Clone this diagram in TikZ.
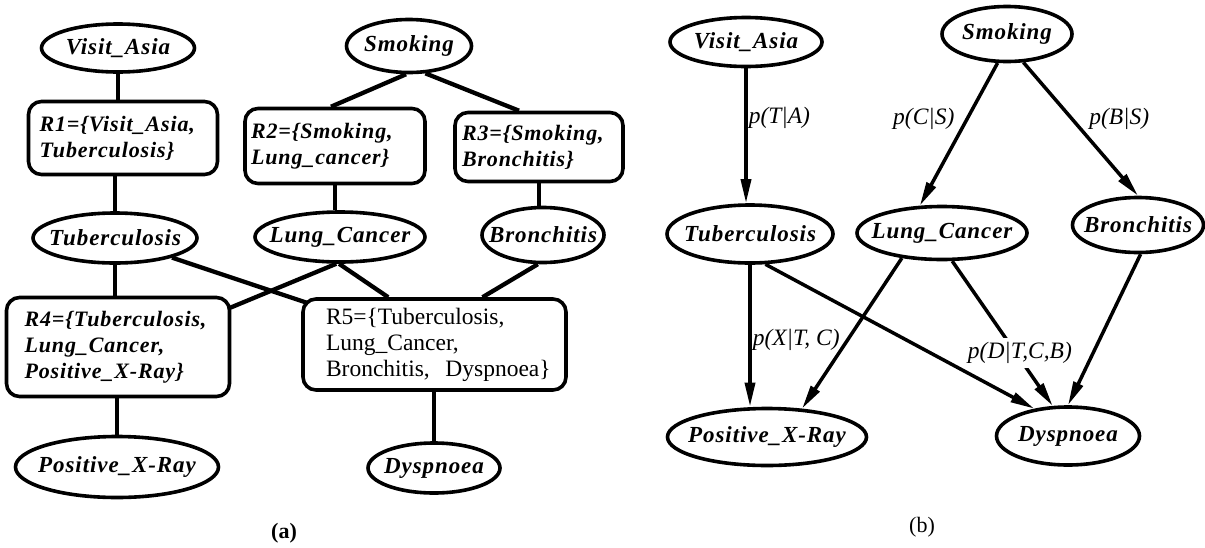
\documentclass[tikz,border=0pt]{standalone}
\usepackage{fontspec}
\setmainfont{Liberation Serif}
\newfontfamily\nodefam[LetterSpace=4.0]{Liberation Serif}
\usetikzlibrary{shapes.geometric,arrows.meta,calc}
\newcommand\zw[1]{\makebox[0pt]{#1}}
\newcommand\nodefnt{\fontsize{23}{26}\selectfont\nodefam\bfseries\itshape}
\newcommand\boxfnt{\fontsize{22}{26}\selectfont\nodefam\bfseries\itshape}
\newcommand\labfnt{\fontsize{23.5}{26}\selectfont\itshape}
\newcommand\rfnt{\fontsize{23.5}{26}\selectfont}
\tikzset{
  ell/.style={draw, ellipse, line width=3.6pt, inner sep=0pt, font=\nodefnt},
  sz/.style 2 args={minimum width=#1pt, minimum height=#2pt},
  rbox/.style={draw, rounded corners=13pt, line width=3.6pt, align=left, inner ysep=0pt, font=\boxfnt},
  conA/.style={line width=4.3pt},
  conB/.style={line width=3.5pt, -{Triangle[length=24pt,width=10pt]}},
  lab/.style={font=\labfnt, inner sep=1pt},
  capt/.style={font=\fontsize{22}{26}\selectfont}
}
\begin{document}
\begin{tikzpicture}[x=1pt,y=-1pt]
\fill[white] (0,0) rectangle (1205,547);
\useasboundingbox (0,0) rectangle (1205,547);

% ---------- (a) ----------
\node[ell, sz={153}{48}] (va_a) at (118,48) {\zw{Visit\_Asia}};
\node[ell, sz={125}{53}] (smk_a) at (409,46) {\zw{Smoking}};
\node[rbox, minimum height=73pt, text width=167pt, inner xsep=11pt] (r1) at (123,138) {R1=\{Visit\_Asia,\\Tuberculosis\}};
\node[rbox, minimum height=75pt, text width=168pt, inner xsep=6pt] (r2) at (335,146) {R2=\{Smoking,\\Lung\_cancer\}};
\node[rbox, minimum height=69pt, text width=154pt, inner xsep=7pt] (r3) at (539,147) {R3=\{Smoking,\\Bronchitis\}};
\node[ell, sz={164}{50}] (tub_a) at (115,238) {\zw{Tuberculosis}};
\node[ell, sz={170}{50}] (lc_a) at (340,237) {\zw{Lung\_Cancer}};
\node[ell, sz={122}{55}] (br_a) at (543,235) {\zw{Bronchitis}};
\node[rbox, minimum height=99pt, text width=187pt, inner xsep=18pt] (r4) at (118,347) {R4=\{Tuberculosis,\\Lung\_Cancer,\\Positive\_X-Ray\}};
\node[rbox, font=\rfnt, minimum height=91pt, text width=217pt, inner xsep=23pt] (r5) at (434.5,344.5) {\mbox{R5=\{Tuberculosis,}\\\mbox{Lung\_Cancer,}\\\mbox{Bronchitis,\ \ Dyspnoea\}}};
\node[ell, sz={203}{61}] (pxr_a) at (117,467) {\zw{Positive\_X-Ray}};
\node[ell, sz={132}{50}] (dys_a) at (434,468) {\zw{Dyspnoea}};
\node[capt, font=\fontsize{22}{26}\selectfont\bfseries] (capa) at (284,533) {(a)};

\draw[conA] (va_a.south) -- (va_a.south |- r1.north);
\draw[conA] (tub_a.north) -- (tub_a.north |- r1.south);
\draw[conA] (tub_a.south) -- (tub_a.south |- r4.north);
\draw[conA] (pxr_a.north) -- (pxr_a.north |- r4.south);
\draw[conA] (smk_a.-96) -- ($(r2.north)+(-4,0)$);
\draw[conA] (smk_a.-59) -- ($(r3.north)+(-20,0)$);
\draw[conA] (r2.south) -- (r2.south |- lc_a.north);
\draw[conA] (r3.south) -- (r3.south |- br_a.north);
\draw[conA] (tub_a.-19) -- ($(r5.north west)+(7,6)$);
\draw[conA] (lc_a.-98) -- ($(r4.north east)+(-1,12)$);
\draw[conA] (lc_a.-92) -- ($(r5.north west)+(87,0)$);
\draw[conA] (br_a.-100) -- ($(r5.north)+(48,0)$);
\draw[conA] (dys_a.north) -- (dys_a.north |- r5.south);

% ---------- (b) ----------
\node[ell, sz={152}{49}] (va_b) at (746,42) {\zw{Visit\_Asia}};
\node[ell, sz={130}{55}] (smk_b) at (1007,34) {\zw{Smoking}};
\node[ell, sz={166}{58}] (tub_b) at (750,234) {\zw{Tuberculosis}};
\node[ell, sz={170}{53}] (lc_b) at (942,233) {\zw{Lung\_Cancer}};
\node[ell, sz={131}{55}] (br_b) at (1138,225) {\zw{Bronchitis}};
\node[ell, sz={199}{57}] (pxr_b) at (767,437) {\zw{Positive\_X-Ray}};
\node[ell, sz={143}{58}] (dys_b) at (1068,436) {\zw{Dyspnoea}};
\node[capt] (capb) at (922,527) {(b)};

\draw[conB] (va_b.south) -- node[lab, right, pos=.37] {p(T|A)} (va_b.south |- tub_b.north);
\draw[conB] (smk_b.-108) -- node[lab, left, pos=.39, xshift=-10pt] {p(C|S)} (lc_b.129);
\draw[conB] (smk_b.-60) -- node[lab, right, pos=.42, xshift=15pt] {p(B|S)} (br_b.north);
\draw[conB] (tub_b.south) -- node[lab, right, pos=.53] {p(X|T, C)} (tub_b.south |- pxr_b.north);
\draw[conB] (lc_b.-148) -- (pxr_b.39);
\draw[conB] (tub_b.-63) -- (dys_b.141);
\draw[conB] (br_b.-85) -- (dys_b.north);
\draw[conB] (lc_b.-70) -- node[lab, fill=white, inner sep=4pt, pos=.634, xshift=4pt] {p(D|T,C,B)} (dys_b.117);
\end{tikzpicture}
\end{document}
